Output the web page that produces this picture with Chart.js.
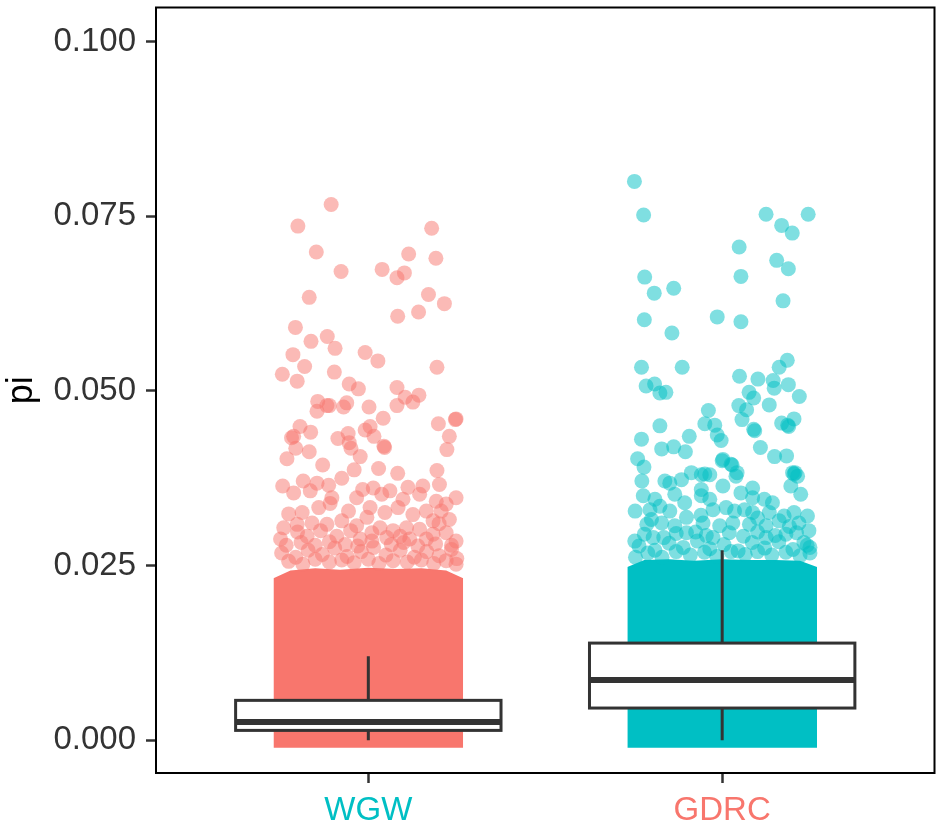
<!DOCTYPE html>
<html>
<head>
<meta charset="utf-8">
<script src="https://cdn.jsdelivr.net/npm/chart.js@4/dist/chart.umd.min.js"></script>
<style>
  html, body { margin: 0; padding: 0; background: #fff; }
  #wrap { width: 942px; height: 829px; position: relative; }
</style>
</head>
<body>
<div id="wrap"><canvas id="chart"></canvas></div>
<script>
// categories on the x axis (positions 1, 2)
const categories = ['WGW', 'GDRC'];
const yTicks = [0, 0.025, 0.05, 0.075, 0.1];

// boxplot stats per category
const whiskerLo = [0.0000, 0.0000];
const boxQ1 = [0.0014, 0.0046];
const boxMedian = [0.0026, 0.0086];
const boxQ3 = [0.0057, 0.0139];
const whiskerHi = [0.0120, 0.0272];

// top edge of the solid mass of overlapping points [offset, pi]
const wgwCore = [[-0.268,0.0232],[-0.22,0.0243],[-0.15,0.0246],[-0.08,0.0244],[0,0.0247],[0.08,0.0245],[0.15,0.0246],[0.22,0.0243],[0.268,0.0232]];
const gdrcCore = [[-0.268,0.0248],[-0.22,0.0258],[-0.15,0.0259],[-0.08,0.0257],[0,0.0259],[0.08,0.0258],[0.15,0.0258],[0.22,0.0257],[0.268,0.0248]];

// jittered points above the mass [offset, pi]
const wgwPoints = [
  [-0.105,0.0767],[-0.199,0.0736],[0.179,0.0733],[-0.147,0.0699],[0.114,0.0696],[0.191,0.0690],[-0.077,0.0671],[0.039,0.0674],
  [0.102,0.0669],[0.081,0.0662],[-0.167,0.0634],[0.170,0.0638],[0.215,0.0625],[0.142,0.0613],[0.083,0.0607],[-0.206,0.0591],
  [-0.162,0.0571],[-0.116,0.0578],[-0.094,0.0561],[-0.009,0.0555],[0.027,0.0543],[-0.213,0.0552],[-0.180,0.0535],[-0.243,0.0524],
  [-0.201,0.0514],[-0.096,0.0527],[0.194,0.0534],[-0.054,0.0510],[-0.028,0.0503],[0.081,0.0505],[0.104,0.0491],[0.143,0.0494],
  [0.126,0.0484],[0.081,0.0479],[-0.143,0.0485],[-0.145,0.0471],[-0.117,0.0479],[-0.110,0.0479],[-0.061,0.0483],[-0.070,0.0477],
  [0.002,0.0477],[0.042,0.0461],[0.248,0.0460],[0.246,0.0459],[0.198,0.0453],[-0.193,0.0449],[-0.163,0.0441],[-0.217,0.0433],
  [-0.211,0.0435],[-0.205,0.0418],[-0.167,0.0413],[-0.230,0.0403],[-0.129,0.0394],[-0.086,0.0432],[-0.057,0.0439],[-0.049,0.0418],
  [-0.054,0.0426],[-0.023,0.0406],[-0.009,0.0444],[0.005,0.0449],[0.016,0.0435],[0.044,0.0421],[0.046,0.0419],[0.229,0.0435],
  [0.222,0.0416],[-0.040,0.0387],[0.029,0.0389],[0.083,0.0382],[0.194,0.0386],
  [-0.242,0.0364],[-0.184,0.0371],[-0.145,0.0368],[-0.112,0.0365],[-0.075,0.0375],[-0.016,0.0359],[0.014,0.0361],[0.061,0.0357],
  [0.112,0.0362],[0.154,0.0364],[0.201,0.0366],[0.248,0.0347],[-0.211,0.0354],[-0.164,0.0357],[-0.103,0.0347],[-0.033,0.0347],
  [0.038,0.0352],[0.098,0.0345],[0.145,0.0352],[0.192,0.0342],[0.220,0.0338],[-0.225,0.0324],[-0.187,0.0326],[-0.140,0.0333],
  [-0.108,0.0339],[-0.056,0.0328],[0.005,0.0333],[0.047,0.0326],[0.084,0.0333],[0.126,0.0323],[0.164,0.0328],[0.206,0.0328],
  [0.229,0.0316],[0.183,0.0314],[-0.239,0.0304],[-0.201,0.0309],[-0.159,0.0311],[-0.117,0.0309],[-0.075,0.0314],[-0.033,0.0307],
  [-0.004,0.0319],[0.033,0.0304],[0.070,0.0300],[0.108,0.0304],[0.145,0.0302],[0.183,0.0295],[0.220,0.0297],[0.248,0.0285],
  [-0.248,0.0288],[-0.173,0.0292],[-0.089,0.0292],[-0.023,0.0288],[0.052,0.0290],[0.117,0.0288],[0.164,0.0288],
  [-0.200,0.0298],[-0.135,0.0300],[-0.050,0.0300],[0.010,0.0297],[0.090,0.0292],[0.200,0.0310],
  [-0.232,0.0279],[-0.190,0.0283],[-0.150,0.0279],[-0.110,0.0284],[-0.065,0.0280],[-0.030,0.0278],[0.010,0.0285],[0.065,0.0280],
  [0.100,0.0283],[0.140,0.0278],[0.190,0.0281],[0.235,0.0279],
  [-0.245,0.0268],[-0.205,0.0262],[-0.170,0.0272],[-0.130,0.0266],[-0.095,0.0275],[-0.060,0.0263],[-0.020,0.0270],[0.015,0.0276],
  [0.050,0.0265],[0.090,0.0272],[0.130,0.0262],[0.165,0.0270],[0.200,0.0264],[0.235,0.0273],[0.250,0.0260],
  [-0.225,0.0256],[-0.185,0.0252],[-0.150,0.0259],[-0.110,0.0255],[-0.075,0.0258],[-0.040,0.0254],[0.000,0.0259],[0.030,0.0253],
  [0.070,0.0257],[0.110,0.0255],[0.150,0.0258],[0.185,0.0253],[0.220,0.0257],[0.248,0.0252]
];
const gdrcPoints = [
  [-0.248,0.0800],[-0.222,0.0752],[0.124,0.0753],[0.243,0.0753],[0.168,0.0737],[0.198,0.0726],[0.048,0.0706],[0.154,0.0687],
  [0.187,0.0675],[0.053,0.0664],[-0.219,0.0663],[-0.192,0.0640],[-0.137,0.0647],[0.172,0.0629],[-0.220,0.0602],[-0.142,0.0583],
  [-0.014,0.0606],[0.053,0.0599],[-0.228,0.0534],[-0.113,0.0534],[-0.215,0.0507],[-0.191,0.0510],[-0.176,0.0497],[-0.159,0.0498],
  [0.049,0.0521],[0.101,0.0517],[0.144,0.0515],[0.184,0.0544],[0.161,0.0534],[0.187,0.0509],[0.147,0.0504],[0.218,0.0492],
  [0.076,0.0498],[0.089,0.0490],[0.047,0.0479],[0.069,0.0473],[0.056,0.0459],[0.133,0.0480],[-0.039,0.0472],[-0.049,0.0453],
  [-0.021,0.0451],[-0.003,0.0429],[-0.014,0.0437],[-0.176,0.0450],[0.089,0.0445],[0.092,0.0443],[0.168,0.0454],[0.185,0.0451],
  [0.188,0.0449],[0.203,0.0460],[-0.228,0.0431],[-0.171,0.0417],[-0.137,0.0420],[-0.104,0.0413],[-0.093,0.0435],[0.108,0.0419],
  [0.148,0.0406],[0.182,0.0407],[-0.239,0.0403],[-0.221,0.0391],[0.000,0.0400],[0.028,0.0394],[0.042,0.0383],[0.203,0.0381],
  [0.206,0.0383],[-0.087,0.0383],[-0.049,0.0381],
  [0.002,0.0402],[0.025,0.0395],[0.039,0.0378],[-0.227,0.0371],[-0.162,0.0371],[-0.148,0.0368],[-0.115,0.0373],[-0.059,0.0380],
  [-0.035,0.0380],[0.002,0.0364],[-0.059,0.0359],[0.086,0.0361],[0.199,0.0383],[0.213,0.0378],[0.194,0.0364],[0.222,0.0352],
  [-0.223,0.0350],[-0.190,0.0345],[-0.134,0.0352],[-0.059,0.0350],[-0.035,0.0345],[0.053,0.0354],[0.086,0.0347],[0.119,0.0345],
  [0.142,0.0340],[-0.246,0.0328],[-0.204,0.0330],[-0.176,0.0335],[-0.148,0.0328],[-0.106,0.0340],[-0.101,0.0319],[-0.026,0.0330],
  [0.011,0.0333],[0.035,0.0328],[0.063,0.0330],[0.086,0.0326],[0.133,0.0326],[0.175,0.0321],[0.203,0.0326],[0.241,0.0321],
  [-0.213,0.0309],[-0.171,0.0311],[-0.134,0.0307],[-0.054,0.0311],[-0.007,0.0307],[0.030,0.0311],[0.077,0.0309],[0.124,0.0307],
  [0.161,0.0314],[0.217,0.0311],[0.245,0.0300],[-0.247,0.0285],[-0.195,0.0290],[-0.101,0.0297],[-0.026,0.0290],[0.124,0.0290],
  [0.180,0.0295],[0.231,0.0283],[0.248,0.0276],
  [-0.200,0.0316],[-0.060,0.0322],[0.100,0.0318],[0.190,0.0306],
  [-0.220,0.0295],[-0.165,0.0290],[-0.130,0.0296],[-0.075,0.0298],[-0.045,0.0293],[0.020,0.0297],[0.060,0.0292],[0.100,0.0298],
  [0.150,0.0293],[0.210,0.0297],
  [-0.235,0.0278],[-0.190,0.0272],[-0.150,0.0282],[-0.110,0.0276],[-0.070,0.0285],[-0.035,0.0274],[0.005,0.0280],[0.045,0.0271],
  [0.085,0.0283],[0.120,0.0275],[0.160,0.0284],[0.200,0.0273],[0.240,0.0279],
  [-0.245,0.0262],[-0.210,0.0268],[-0.170,0.0262],[-0.130,0.0270],[-0.090,0.0265],[-0.050,0.0269],[-0.015,0.0263],[0.025,0.0270],
  [0.065,0.0266],[0.100,0.0270],[0.140,0.0265],[0.180,0.0269],[0.220,0.0264],[0.248,0.0268]
];

const RED = '#F8766D';
const CYAN = '#00BFC4';
const labelColors = [CYAN, RED];

function place(list, pos) {
  return list.map(([dx, v]) => ({ x: pos + dx, y: v }));
}

// boxes, whiskers and the panel frame, drawn over the points
const boxPlugin = {
  id: 'boxes',
  afterDatasetsDraw(chart) {
    const { ctx, scales: { x, y }, chartArea } = chart;
    ctx.save();
    categories.forEach((c, i) => {
      const pos = i + 1;
      const cx = x.getPixelForValue(pos);
      const left = x.getPixelForValue(pos - 0.375);
      const right = x.getPixelForValue(pos + 0.375);
      const q1 = y.getPixelForValue(boxQ1[i]);
      const q3 = y.getPixelForValue(boxQ3[i]);
      const med = y.getPixelForValue(boxMedian[i]);
      ctx.strokeStyle = '#333333';
      ctx.lineWidth = 3;
      ctx.beginPath();
      ctx.moveTo(cx, y.getPixelForValue(whiskerHi[i]));
      ctx.lineTo(cx, q3);
      ctx.moveTo(cx, q1);
      ctx.lineTo(cx, y.getPixelForValue(whiskerLo[i]));
      ctx.stroke();
      ctx.fillStyle = '#ffffff';
      ctx.fillRect(left, q3, right - left, q1 - q3);
      ctx.strokeRect(left, q3, right - left, q1 - q3);
      ctx.lineWidth = 6;
      ctx.beginPath();
      ctx.moveTo(left, med);
      ctx.lineTo(right, med);
      ctx.stroke();
    });
    ctx.strokeStyle = '#000000';
    ctx.lineWidth = 2;
    ctx.strokeRect(chartArea.left, chartArea.top, chartArea.right - chartArea.left, chartArea.bottom - chartArea.top);
    ctx.restore();
  }
};

const pointStyle = (color) => ({
  pointRadius: 7.5,
  pointBorderWidth: 0,
  pointHoverRadius: 7.5,
  pointBackgroundColor: Chart.helpers.color(color).alpha(0.5).rgbString(),
  showLine: false,
  order: 1
});

const coreStyle = (color) => ({
  type: 'line',
  showLine: true,
  borderWidth: 0,
  borderColor: 'rgba(0,0,0,0)',
  pointRadius: 0,
  tension: 0,
  backgroundColor: color,
  fill: { value: -0.00107 },
  order: 2
});

new Chart(document.getElementById('chart'), {
  type: 'scatter',
  data: {
    datasets: [
      { label: 'WGW', data: place(wgwPoints, 1), ...pointStyle(RED) },
      { label: 'GDRC', data: place(gdrcPoints, 2), ...pointStyle(CYAN) },
      { label: 'WGW core', data: place(wgwCore, 1), ...coreStyle(RED) },
      { label: 'GDRC core', data: place(gdrcCore, 2), ...coreStyle(CYAN) }
    ]
  },
  options: {
    responsive: true,
    maintainAspectRatio: false,
    devicePixelRatio: 1,
    animation: false,
    layout: { padding: { top: 3, right: 3, left: 0, bottom: 0 } },
    plugins: { legend: { display: false }, tooltip: { enabled: false } },
    scales: {
      x: {
        type: 'linear',
        min: 0.4,
        max: 2.6,
        afterBuildTicks: (s) => { s.ticks = categories.map((c, i) => ({ value: i + 1 })); },
        afterFit: (s) => { s.height = 56; s.paddingLeft = 0; s.paddingRight = 0; },
        grid: { drawOnChartArea: false, drawTicks: true, tickLength: 10, tickColor: '#333333', tickWidth: 2.5 },
        border: { display: false },
        ticks: {
          padding: 8,
          autoSkip: false,
          maxRotation: 0,
          font: { family: 'Liberation Sans', size: 33 },
          color: (ctx) => labelColors[ctx.index],
          callback: (v) => categories[v - 1]
        }
      },
      y: {
        min: -0.0047,
        max: 0.1049,
        afterBuildTicks: (s) => { s.ticks = yTicks.map(v => ({ value: v })); },
        afterFit: (s) => { s.width = 156; s.paddingTop = 0; s.paddingBottom = 0; },
        grid: { drawOnChartArea: false, drawTicks: true, tickLength: 10, tickColor: '#333333', tickWidth: 2.5 },
        border: { display: false },
        title: {
          display: true,
          text: 'pi',
          color: '#000000',
          font: { family: 'Liberation Sans', size: 36 },
          padding: { top: 0, bottom: 0 }
        },
        ticks: {
          padding: 10,
          font: { family: 'Liberation Sans', size: 33 },
          color: '#333333',
          callback: (v) => v.toFixed(3)
        }
      }
    }
  },
  plugins: [boxPlugin]
});
</script>
</body>
</html>
